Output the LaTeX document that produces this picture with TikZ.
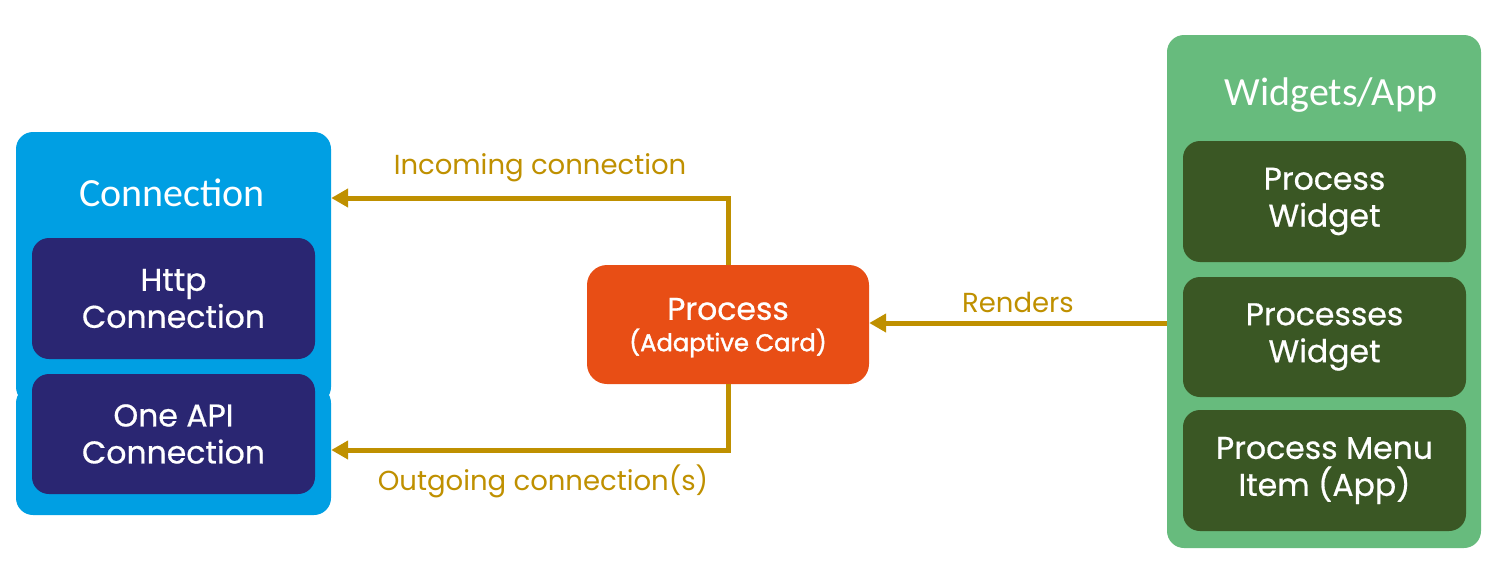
\documentclass[tikz,border=0pt]{standalone}
\usepackage{fontspec}
\setmainfont{Poppins}
\newfontfamily\medfont[FakeBold=0.6]{Poppins}
\newfontfamily\sbfont[FakeBold=1.6]{Poppins}
\newfontfamily\hdfont{Carlito}
\usetikzlibrary{arrows.meta}
\definecolor{cblue}{HTML}{009FE3}
\definecolor{cnavy}{HTML}{2A2672}
\definecolor{corange}{HTML}{E84E15}
\definecolor{clgreen}{HTML}{67BB7D}
\definecolor{cdgreen}{HTML}{3A5724}
\definecolor{cgold}{HTML}{BF9000}
\tikzset{
  box/.style={rounded corners=17pt, inner sep=0pt, align=center, text=white,
    font=\medfont\fontsize{31.5}{37}\selectfont},
  hdr/.style={text=white, font=\hdfont\fontsize{40}{44}\selectfont, inner sep=0pt},
  lbl/.style={text=cgold, font=\fontsize{27.5}{30}\selectfont, inner sep=0pt},
  conn/.style={draw=cgold, line width=5pt, -{Triangle[length=17pt,width=18pt]}},
}
\begin{document}
\begin{tikzpicture}[x=1pt,y=-1pt]
\useasboundingbox (0,0) rectangle (1496,562);
% Connection group
\fill[cblue, rounded corners=17pt] (16,132) rectangle (331,404);
\fill[cblue, rounded corners=17pt] (16,386) rectangle (331,515);
\node[minimum width=315pt, minimum height=383pt, inner sep=0pt] (connbox) at (173.5,323.5) {};
\node[hdr] (connhdr) at (172,193) {Connection};
\node[box, fill=cnavy, minimum width=283pt, minimum height=121pt] (http) at (173.5,298.5) {Http\\Connection};
\node[box, fill=cnavy, minimum width=283pt, minimum height=120pt] (oneapi) at (173.5,434) {One API\\Connection};
% Process
\node[box, fill=corange, rounded corners=20pt, minimum width=282pt, minimum height=119pt] (proc) at (728,324.5) {};
\node[text=white, inner sep=0pt, font=\medfont\fontsize{31.5}{34}\selectfont] (proct) at (728,309) {Process};
\node[text=white, inner sep=0pt, font=\sbfont\fontsize{24.2}{26}\selectfont] (procs) at (728,343) {(Adaptive Card)};
% Widgets group
\node[fill=clgreen, rounded corners=17pt, minimum width=314pt, minimum height=513pt, inner sep=0pt] (wid) at (1324,291.5) {};
\node[hdr] (widhdr) at (1331,95) {Widgets/App};
\node[box, fill=cdgreen, minimum width=283pt, minimum height=121pt] (pw) at (1324.5,201.5) {Process\\Widget};
\node[box, fill=cdgreen, minimum width=283pt, minimum height=120pt] (psw) at (1324.5,337) {Processes\\Widget};
\node[box, fill=cdgreen, minimum width=283pt, minimum height=121pt] (pmi) at (1324.5,470.5) {Process Menu\\Item (App)};
% Connectors
\coordinate (inc) at (728,198);
\coordinate (outc) at (728,450);
\draw[conn] (proc.north) -- (inc) -- (inc -| connbox.east);
\draw[conn] (proc.south) -- (outc) -- (outc -| connbox.east);
\draw[conn] (wid.west |- 0,323) -- (proc.east |- 0,323);
% Labels
\node[lbl] (linc) at (540,168) {Incoming connection};
\node[lbl] (lout) at (543,481) {Outgoing connection(s)};
\node[lbl] (lren) at (1018,302) {Renders};
\end{tikzpicture}
\end{document}
